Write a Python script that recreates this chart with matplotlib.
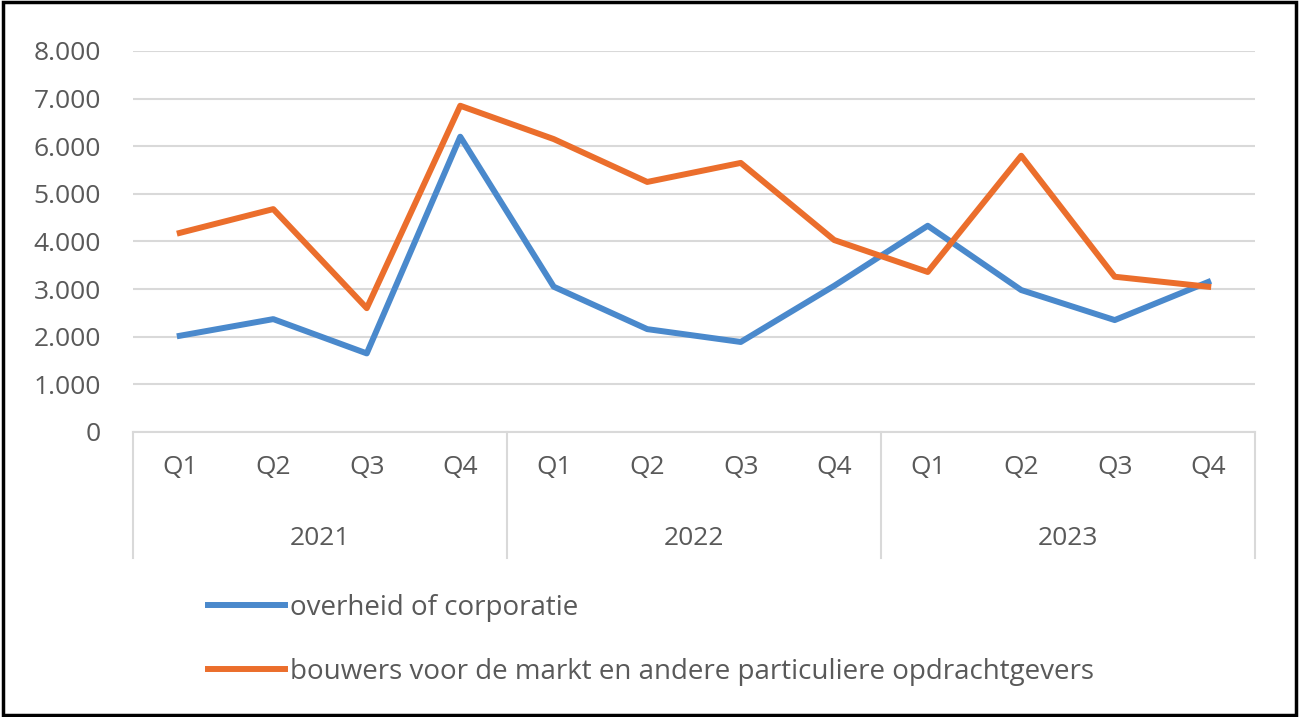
import matplotlib.pyplot as plt
from matplotlib.ticker import FuncFormatter
from matplotlib.patches import Rectangle

years = ["2021", "2022", "2023"]
quarters = ["Q1", "Q2", "Q3", "Q4"]
overheid = [2020, 2370, 1650, 6200, 3050, 2160, 1890, 3070, 4330, 2980, 2350, 3150]
bouwers = [4180, 4680, 2600, 6850, 6150, 5250, 5650, 4030, 3360, 5800, 3260, 3050]
labels = ["overheid of corporatie",
          "bouwers voor de markt en andere particuliere opdrachtgevers"]

blue = "#4a89cc"
orange = "#eb6e2c"
grey = "#d9d9d9"
txt = "#595959"

plt.rcParams['font.family'] = ['Open Sans', 'DejaVu Sans']

fig = plt.figure(figsize=(12.99, 7.17), dpi=100)
ax = fig.add_axes([0.1024, 0.3975, 0.8637, 0.5314])

x = list(range(len(overheid)))
l1, = ax.plot(x, overheid, color=blue, lw=4.3, solid_joinstyle='round')
l2, = ax.plot(x, bouwers, color=orange, lw=4.3, solid_joinstyle='round')

ax.set_xlim(-0.5, len(x) - 0.5)
ax.set_ylim(0, 8000)
ax.set_yticks(range(0, 8001, 1000))
ax.yaxis.set_major_formatter(FuncFormatter(lambda v, p: f"{v:,.0f}".replace(",", ".")))
ax.grid(axis='y', color=grey, lw=1.5)
ax.set_axisbelow(True)
ax.tick_params(axis='y', length=0, pad=23, labelsize=19, labelcolor=txt)
ax.set_xticks([])
for s in ["top", "right", "left"]:
    ax.spines[s].set_visible(False)
ax.spines["bottom"].set_color(grey)
ax.spines["bottom"].set_linewidth(1.5)

# multi-level category axis
tr = ax.get_xaxis_transform()
for i, q in enumerate(quarters * len(years)):
    ax.text(i, -0.094, q, transform=tr, ha='center', va='center', fontsize=19, color=txt)
for j, yr in enumerate(years):
    ax.text(j * 4 + 1.5, -0.28, yr, transform=tr, ha='center', va='center', fontsize=19, color=txt)
for b in [-0.5, 3.5, 7.5, 11.5]:
    ax.plot([b, b], [0, -0.33], transform=tr, color=grey, lw=1.5, clip_on=False)

fig.legend([l1, l2], labels, loc='upper left', bbox_to_anchor=(0.141, 0.207),
           frameon=False, fontsize=20, handlelength=2.75, handletextpad=0.18,
           labelspacing=1.3, labelcolor=txt)

fig.patches.append(Rectangle((0.002, 0.003), 0.996, 0.994, transform=fig.transFigure,
                             fill=False, edgecolor='black', lw=2.5))

fig.savefig("out.png", dpi=100)
